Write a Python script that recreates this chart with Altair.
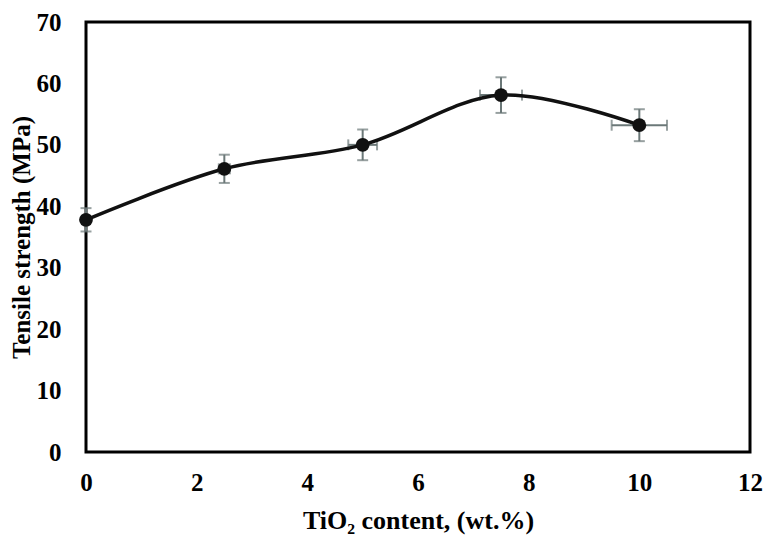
import altair as alt
import pandas as pd

tio2 = [0, 2.5, 5, 7.5, 10]
strength = [37.8, 46.1, 50.0, 58.1, 53.2]
y_err = [1.9, 2.3, 2.5, 2.9, 2.6]
x_err = [0.06, 0.1, 0.26, 0.38, 0.5]
x_ticks = [0, 2, 4, 6, 8, 10, 12]
y_ticks = [0, 10, 20, 30, 40, 50, 60, 70]

df = pd.DataFrame({"x": tio2, "y": strength, "ye": y_err, "xe": x_err})
df["ylo"] = df["y"] - df["ye"]
df["yhi"] = df["y"] + df["ye"]
df["xlo"] = df["x"] - df["xe"]
df["xhi"] = df["x"] + df["xe"]

FONT = "Liberation Serif"
xs = alt.Scale(domain=[0, 12], nice=False)
ys = alt.Scale(domain=[0, 70], nice=False)

xaxis = alt.Axis(values=x_ticks, format="d", title="TiO\u2082 content, (wt.%)", grid=False, ticks=False,
                 domain=False, labelFlush=False, labelFont=FONT, labelFontSize=25, labelFontWeight="bold",
                 labelColor="black", labelPadding=18, titleFont=FONT, titleFontSize=26,
                 titleFontWeight="bold", titleColor="black", titlePadding=12)
yaxis = alt.Axis(values=y_ticks, format="d", title="Tensile strength (MPa)", grid=False, ticks=False,
                 domain=False, labelFlush=False, labelFont=FONT, labelFontSize=25, labelFontWeight="bold",
                 labelColor="black", labelPadding=25, titleFont=FONT, titleFontSize=25,
                 titleFontWeight="bold", titleColor="black", titlePadding=2)

base = alt.Chart(df)
ERR = "#6b7878"

vbar = base.mark_rule(color=ERR, strokeWidth=2).encode(
    x=alt.X("x:Q", scale=xs, axis=xaxis), y=alt.Y("ylo:Q", scale=ys, axis=yaxis), y2="yhi:Q")
hbar = base.mark_rule(color=ERR, strokeWidth=2).encode(
    x=alt.X("xlo:Q", scale=xs), x2="xhi:Q", y=alt.Y("y:Q", scale=ys))
cap_top = base.mark_tick(color=ERR, orient="horizontal", size=11, thickness=2).encode(
    x=alt.X("x:Q", scale=xs), y=alt.Y("yhi:Q", scale=ys))
cap_bot = base.mark_tick(color=ERR, orient="horizontal", size=11, thickness=2).encode(
    x=alt.X("x:Q", scale=xs), y=alt.Y("ylo:Q", scale=ys))
cap_l = base.mark_tick(color=ERR, orient="vertical", size=11, thickness=2).encode(
    x=alt.X("xlo:Q", scale=xs), y=alt.Y("y:Q", scale=ys))
cap_r = base.mark_tick(color=ERR, orient="vertical", size=11, thickness=2).encode(
    x=alt.X("xhi:Q", scale=xs), y=alt.Y("y:Q", scale=ys))
line = base.mark_line(color="#111111", strokeWidth=3.5, interpolate="catmull-rom").encode(
    x=alt.X("x:Q", scale=xs), y=alt.Y("y:Q", scale=ys))
pts = base.mark_point(filled=True, color="#111111", opacity=1, size=190, shape="circle").encode(
    x=alt.X("x:Q", scale=xs), y=alt.Y("y:Q", scale=ys))

chart = alt.layer(vbar, hbar, cap_top, cap_bot, cap_l, cap_r, line, pts).properties(
    width=664, height=430,
    background="white",
    autosize=alt.AutoSizeParams(type="none"),
    padding={"left": 78, "top": 14, "right": 18, "bottom": 87},
).configure_view(stroke="black", strokeWidth=3)

chart.save("out.html", embed_options={"renderer": "svg", "actions": False})
